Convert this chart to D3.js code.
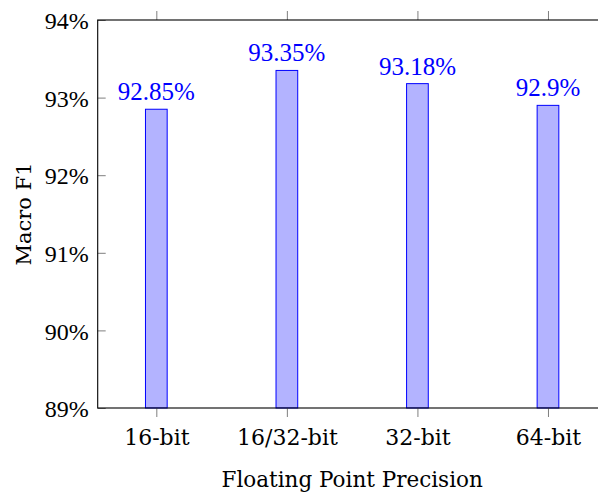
<!DOCTYPE html>
<html>
<head>
<meta charset="utf-8">
<script src="https://cdn.jsdelivr.net/npm/d3@7"></script>
<style>
  html, body { margin: 0; padding: 0; background: #fff; }
  svg { display: block; }
</style>
</head>
<body>
<script>
const categories = ["16-bit", "16/32-bit", "32-bit", "64-bit"];
const values = [92.85, 93.35, 93.18, 92.9];
const valueLabels = ["92.85%", "93.35%", "93.18%", "92.9%"];
const yTicks = [89, 90, 91, 92, 93, 94];
const xTitle = "Floating Point Precision";
const yTitle = "Macro F1";

const W = 598, H = 492;
const mLeft = 97.7, mRight = 606.6, mTop = 20, mBottom = 408;

const svg = d3.select("body").append("svg")
  .attr("width", W).attr("height", H);

const x = d3.scalePoint().domain(categories).range([mLeft, mRight]).padding(0.449);
const y = d3.scaleLinear().domain([89, 94]).range([mBottom, mTop]);

const serif = "Liberation Serif";
const textFont = "DejaVu Serif";
const tickColor = "#7f7f7f";

// bars
const barW = 21.7;
svg.append("g").selectAll("rect").data(values).join("rect")
  .attr("x", (d, i) => x(categories[i]) - barW / 2)
  .attr("y", d => y(d))
  .attr("width", barW)
  .attr("height", d => y(89) - y(d))
  .attr("fill", "#b3b3ff")
  .attr("stroke", "#0000ff")
  .attr("stroke-width", 1);

// value labels
svg.append("g").selectAll("text").data(values).join("text")
  .attr("x", (d, i) => x(categories[i]))
  .attr("y", d => y(d) - 9)
  .attr("text-anchor", "middle")
  .style("font-family", serif)
  .style("font-size", "25px")
  .attr("fill", "#0000ff")
  .text((d, i) => valueLabels[i]);

// y ticks (inward on left and right)
const yAxisL = d3.axisLeft(y).tickValues(yTicks).tickSize(-8).tickFormat(d => d + "%");
const gy = svg.append("g").attr("transform", `translate(${mLeft},0)`).call(yAxisL);
gy.select(".domain").remove();
gy.selectAll(".tick line").attr("stroke", tickColor);
gy.selectAll(".tick text")
  .style("font-family", serif).style("font-size", "24px").attr("fill", "#000")
  .attr("dy", "0.36em").attr("x", -9);

const yAxisR = d3.axisRight(y).tickValues(yTicks).tickSize(-8).tickFormat("");
const gyr = svg.append("g").attr("transform", `translate(${mRight},0)`).call(yAxisR);
gyr.select(".domain").remove();
gyr.selectAll(".tick line").attr("stroke", tickColor);

// x ticks (outward bottom and top)
const xAxisB = d3.axisBottom(x).tickSize(9);
const gx = svg.append("g").attr("transform", `translate(0,${mBottom})`).call(xAxisB);
gx.select(".domain").remove();
gx.selectAll(".tick line").attr("stroke", tickColor);
gx.selectAll(".tick text")
  .style("font-family", textFont).style("font-size", "22px").attr("fill", "#000")
  .attr("dy", null).attr("y", 37);

const xAxisT = d3.axisTop(x).tickSize(9).tickFormat("");
const gxt = svg.append("g").attr("transform", `translate(0,${mTop})`).call(xAxisT);
gxt.select(".domain").remove();
gxt.selectAll(".tick line").attr("stroke", tickColor);

// frame
svg.append("rect")
  .attr("x", mLeft).attr("y", mTop)
  .attr("width", mRight - mLeft).attr("height", mBottom - mTop)
  .attr("fill", "none").attr("stroke", "#000").attr("stroke-width", 1.1);

// titles
svg.append("text")
  .attr("x", (mLeft + mRight) / 2).attr("y", 486.5)
  .attr("text-anchor", "middle")
  .style("font-family", textFont).style("font-size", "21.5px")
  .text(xTitle);

svg.append("text")
  .attr("transform", `translate(31,${(mTop + mBottom) / 2}) rotate(-90)`)
  .attr("text-anchor", "middle")
  .style("font-family", textFont).style("font-size", "21px")
  .text(yTitle);
</script>
</body>
</html>
